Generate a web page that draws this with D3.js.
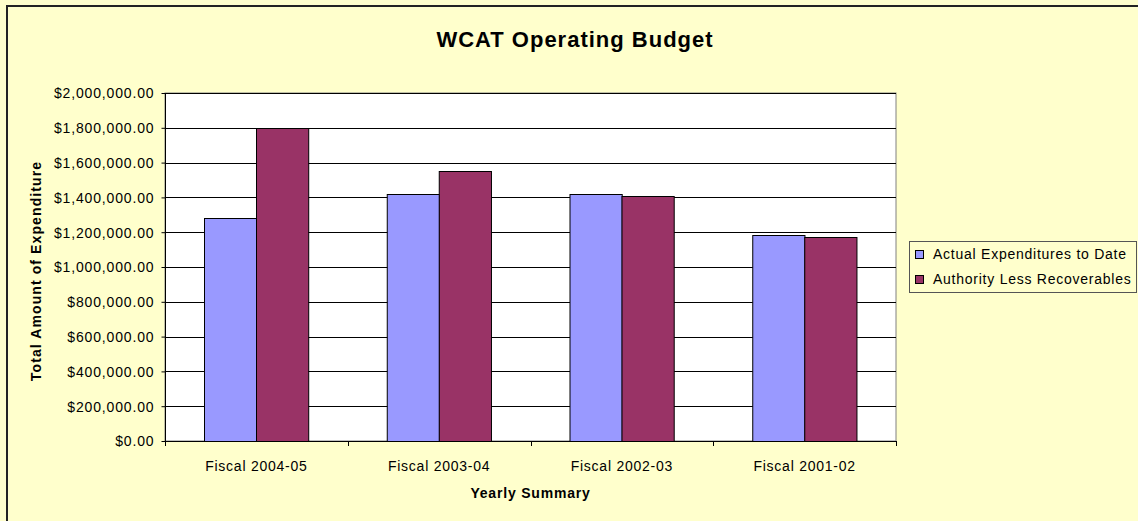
<!DOCTYPE html>
<html>
<head>
<meta charset="utf-8">
<script src="https://cdn.jsdelivr.net/npm/d3@7"></script>
<style>
  html, body { margin: 0; padding: 0; background: #FFFFCC; }
  svg { display: block; font-family: "Liberation Sans", Arial, sans-serif; }
</style>
</head>
<body>
<svg id="chart" width="1138" height="521"></svg>
<script>
const categories = ["Fiscal 2004-05", "Fiscal 2003-04", "Fiscal 2002-03", "Fiscal 2001-02"];
const seriesNames = ["Actual Expenditures to Date", "Authority Less Recoverables"];
const actualExpenditures = [1280000, 1421000, 1421000, 1186000];
const authorityLessRecoverables = [1800000, 1552000, 1408000, 1172000];
const yTicks = [0, 200000, 400000, 600000, 800000, 1000000, 1200000, 1400000, 1600000, 1800000, 2000000];
const colors = ["#9999FF", "#993366"];
const chartTitle = "WCAT Operating Budget";
const xTitle = "Yearly Summary";
const yTitle = "Total Amount of Expenditure";

const seriesValues = [actualExpenditures, authorityLessRecoverables];

const svg = d3.select("#chart");
const W = 1138, H = 521;
const plot = { left: 165, right: 896, top: 93, bottom: 441 };

// background + outer border (right/bottom edges fall outside the picture)
svg.append("rect").attr("x", 0).attr("y", 0).attr("width", W).attr("height", H).attr("fill", "#FFFFCC");
svg.append("rect").attr("x", 7).attr("y", 6).attr("width", W + 20).attr("height", H + 20)
  .attr("fill", "none").attr("stroke", "#222").attr("stroke-width", 2);

const x0 = d3.scaleBand().domain(categories).range([plot.left, plot.right]).paddingInner(0).paddingOuter(0);
const x1 = d3.scaleBand().domain(seriesNames).range([0, x0.bandwidth()]).paddingInner(0).paddingOuter(0.75);
const y = d3.scaleLinear().domain([0, 2000000]).range([plot.bottom, plot.top]);

// plot area
svg.append("rect").attr("x", plot.left).attr("y", plot.top)
  .attr("width", plot.right - plot.left).attr("height", plot.bottom - plot.top)
  .attr("fill", "#FFFFFF").attr("stroke", "#808080").attr("stroke-width", 1);

// gridlines
svg.append("g").selectAll("line").data(yTicks.filter(d => d > 0)).join("line")
  .attr("x1", plot.left).attr("x2", plot.right)
  .attr("y1", d => Math.round(y(d)) + 0.5).attr("y2", d => Math.round(y(d)) + 0.5)
  .attr("stroke", "#000").attr("stroke-width", 1);

// bars
const groups = svg.append("g").selectAll("g").data(categories).join("g")
  .attr("transform", c => `translate(${x0(c)},0)`);
groups.selectAll("rect").data((c, i) => seriesNames.map((s, j) => ({ s, j, v: seriesValues[j][i] })))
  .join("rect")
  .attr("x", d => Math.round(x1(d.s)) + 0.5)
  .attr("y", d => Math.round(y(d.v)) + 0.5)
  .attr("width", x1.bandwidth())
  .attr("height", d => Math.round(y(0)) - Math.round(y(d.v)))
  .attr("fill", d => colors[d.j])
  .attr("stroke", "#000").attr("stroke-width", 1);

// y axis
const yAxis = d3.axisLeft(y).tickValues(yTicks).tickFormat(d3.format("$,.2f")).tickSize(4).tickPadding(7);
const gy = svg.append("g").attr("transform", `translate(${plot.left + 0.5},0)`).call(yAxis);
gy.select(".domain").attr("stroke", "#000").attr("d", `M0,${plot.top}V${plot.bottom}`);
gy.selectAll(".tick line").attr("stroke", "#000");
gy.selectAll(".tick text").attr("fill", "#000").style("font-size", "14px").style("letter-spacing", "0.85px").attr("dy", "0.35em");

// x axis
const boundaries = categories.map(c => x0(c)).concat([x0(categories[categories.length - 1]) + x0.bandwidth()]);
const gx = svg.append("g");
gx.append("line").attr("x1", plot.left).attr("x2", plot.right)
  .attr("y1", plot.bottom + 0.5).attr("y2", plot.bottom + 0.5).attr("stroke", "#000");
gx.selectAll(".btick").data(boundaries).join("line").attr("class", "btick")
  .attr("x1", d => Math.round(d) + 0.5).attr("x2", d => Math.round(d) + 0.5)
  .attr("y1", plot.bottom).attr("y2", plot.bottom + 5).attr("stroke", "#000");
gx.selectAll(".xlab").data(categories).join("text").attr("class", "xlab")
  .attr("x", c => x0(c) + x0.bandwidth() / 2).attr("y", 471)
  .attr("text-anchor", "middle").style("font-size", "14px").style("letter-spacing", "0.75px")
  .text(c => c);

// titles
svg.append("text").attr("x", 575).attr("y", 47).attr("text-anchor", "middle")
  .style("font-size", "22px").style("font-weight", "bold").style("letter-spacing", "1px").text(chartTitle);
svg.append("text").attr("x", (plot.left + plot.right) / 2).attr("y", 498).attr("text-anchor", "middle")
  .style("font-size", "14px").style("font-weight", "bold").style("letter-spacing", "0.8px").text(xTitle);
svg.append("text").attr("transform", `translate(41,${(plot.top + plot.bottom) / 2 + 4}) rotate(-90)`)
  .attr("text-anchor", "middle")
  .style("font-size", "14px").style("font-weight", "bold").style("letter-spacing", "1.1px").text(yTitle);

// legend
const lg = svg.append("g");
lg.append("rect").attr("x", 909.5).attr("y", 241.5).attr("width", 227).attr("height", 51)
  .attr("fill", "#FFFFCC").attr("stroke", "#555").attr("stroke-width", 1);
const items = lg.selectAll(".li").data(seriesNames).join("g").attr("class", "li")
  .attr("transform", (d, i) => `translate(915,${254 + i * 25})`);
items.append("rect").attr("x", 0.5).attr("y", -3.5).attr("width", 8).attr("height", 8)
  .attr("fill", (d, i) => colors[i]).attr("stroke", "#000");
items.append("text").attr("x", 18).attr("y", 0).attr("dy", "0.35em")
  .style("font-size", "14px").style("letter-spacing", "0.75px").text(d => d);
</script>
</body>
</html>
